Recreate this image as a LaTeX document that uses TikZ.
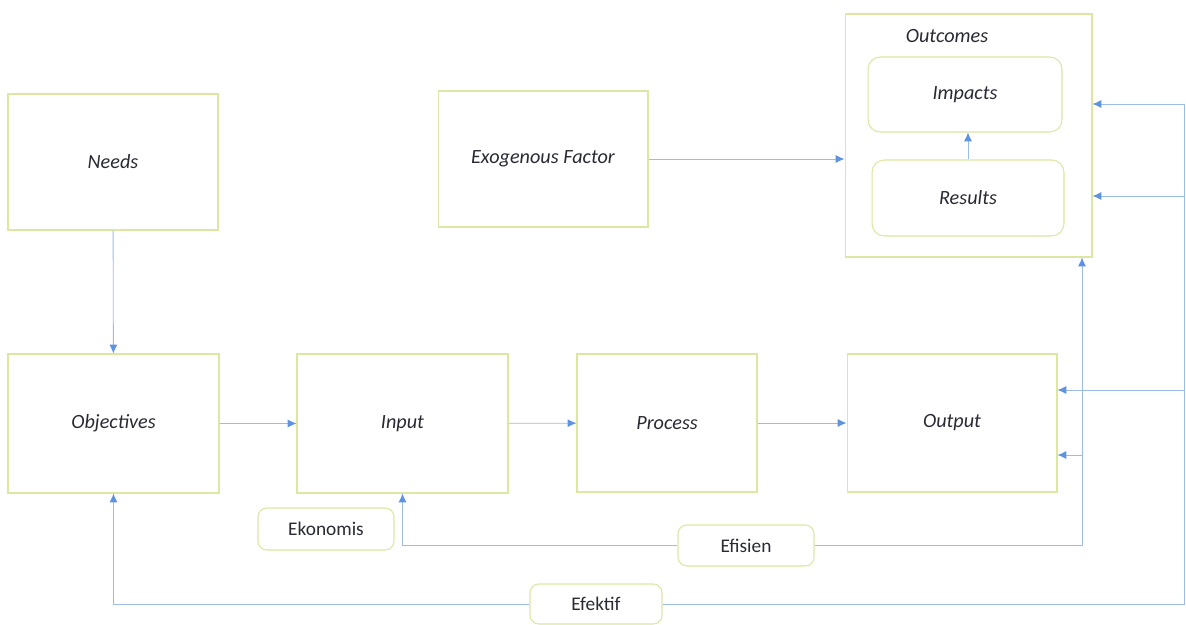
\documentclass[tikz,border=0pt]{standalone}
\usepackage{fontspec}
\setmainfont{Carlito}
\usetikzlibrary{arrows.meta}
\definecolor{boxline}{HTML}{DDE6A2}
\definecolor{conn}{HTML}{9CBCE8}
\definecolor{tip}{HTML}{5F93E0}
\definecolor{txt}{HTML}{2A2A35}
\tikzset{
  box/.style={draw=boxline, line width=0.6pt, fill=white, text=txt, font=\itshape\fontsize{11.5}{13}\selectfont, inner sep=2pt},
  rbox/.style={box, rounded corners=7pt},
  lbl/.style={draw=boxline, line width=0.6pt, fill=white, rounded corners=5pt, text=txt, font=\fontsize{11}{13}\selectfont},
  link/.style={draw=conn, line width=0.5pt},
  arr/.style={link, -{Latex[length=5pt,width=4.5pt,color=tip]}}
}
\begin{document}
\begin{tikzpicture}[x=0.02cm, y=-0.02cm]
\useasboundingbox (0,0) rectangle (1186,625);
% boxes
\node[box, minimum width=4.2cm, minimum height=2.72cm] (needs) at (113,162) {Needs};
\node[box, minimum width=4.2cm, minimum height=2.72cm] (exo) at (543,159) {Exogenous Factor};
\node[box, minimum width=4.94cm, minimum height=4.86cm] (outcomes) at (968.5,135.5) {};
\node[text=txt, font=\itshape\fontsize{11.5}{13}\selectfont] (outtitle) at (947,36) {Outcomes};
\node[rbox, minimum width=3.88cm, minimum height=1.5cm] (impacts) at (965,94.5) {Impacts};
\node[rbox, minimum width=3.84cm, minimum height=1.52cm] (results) at (968,198) {Results};
\node[box, minimum width=4.22cm, minimum height=2.78cm] (objectives) at (113.5,423.5) {Objectives};
\node[box, minimum width=4.22cm, minimum height=2.78cm] (input) at (402.5,423.5) {Input};
\node[box, minimum width=3.6cm, minimum height=2.76cm] (process) at (667,423) {Process};
\node[box, minimum width=4.2cm, minimum height=2.76cm] (output) at (952,423) {Output};
\node[lbl, minimum width=2.72cm, minimum height=0.84cm] (ekonomis) at (326,529) {Ekonomis};
\node[lbl, minimum width=2.72cm, minimum height=0.82cm] (efisien) at (746,545.5) {Efisien};
\node[lbl, minimum width=2.64cm, minimum height=0.8cm] (efektif) at (596,604) {Efektif};
% coordinates
\coordinate (v1) at (1082,545.5);
\coordinate (vb) at (1082,455);
\coordinate (re) at (1184,604);
\coordinate (r1) at (1184,104);
\coordinate (r2) at (1184,196);
\coordinate (r3) at (1184,390);
% connectors
\draw[arr] (needs) -- (objectives);
\draw[arr] (objectives) -- (input);
\draw[arr] (input) -- (process);
\draw[arr] (process) -- (output);
\draw[arr] (exo.east) -- (exo.east -| outcomes.west);
\draw[arr] (results.north) -- (results.north |- impacts.south);
\draw[arr] (efisien.west) -| (input.south);
\draw[arr] (efisien.east) -- (v1) -- (v1 |- outcomes.south);
\draw[arr] (vb) -- (vb -| output.east);
\draw[arr] (efektif.west) -| (objectives.south);
\draw[link] (efektif.east) -- (re) -- (r1);
\draw[arr] (r1) -- (r1 -| outcomes.east);
\draw[arr] (r2) -- (r2 -| outcomes.east);
\draw[arr] (r3) -- (r3 -| output.east);
\end{tikzpicture}
\end{document}
